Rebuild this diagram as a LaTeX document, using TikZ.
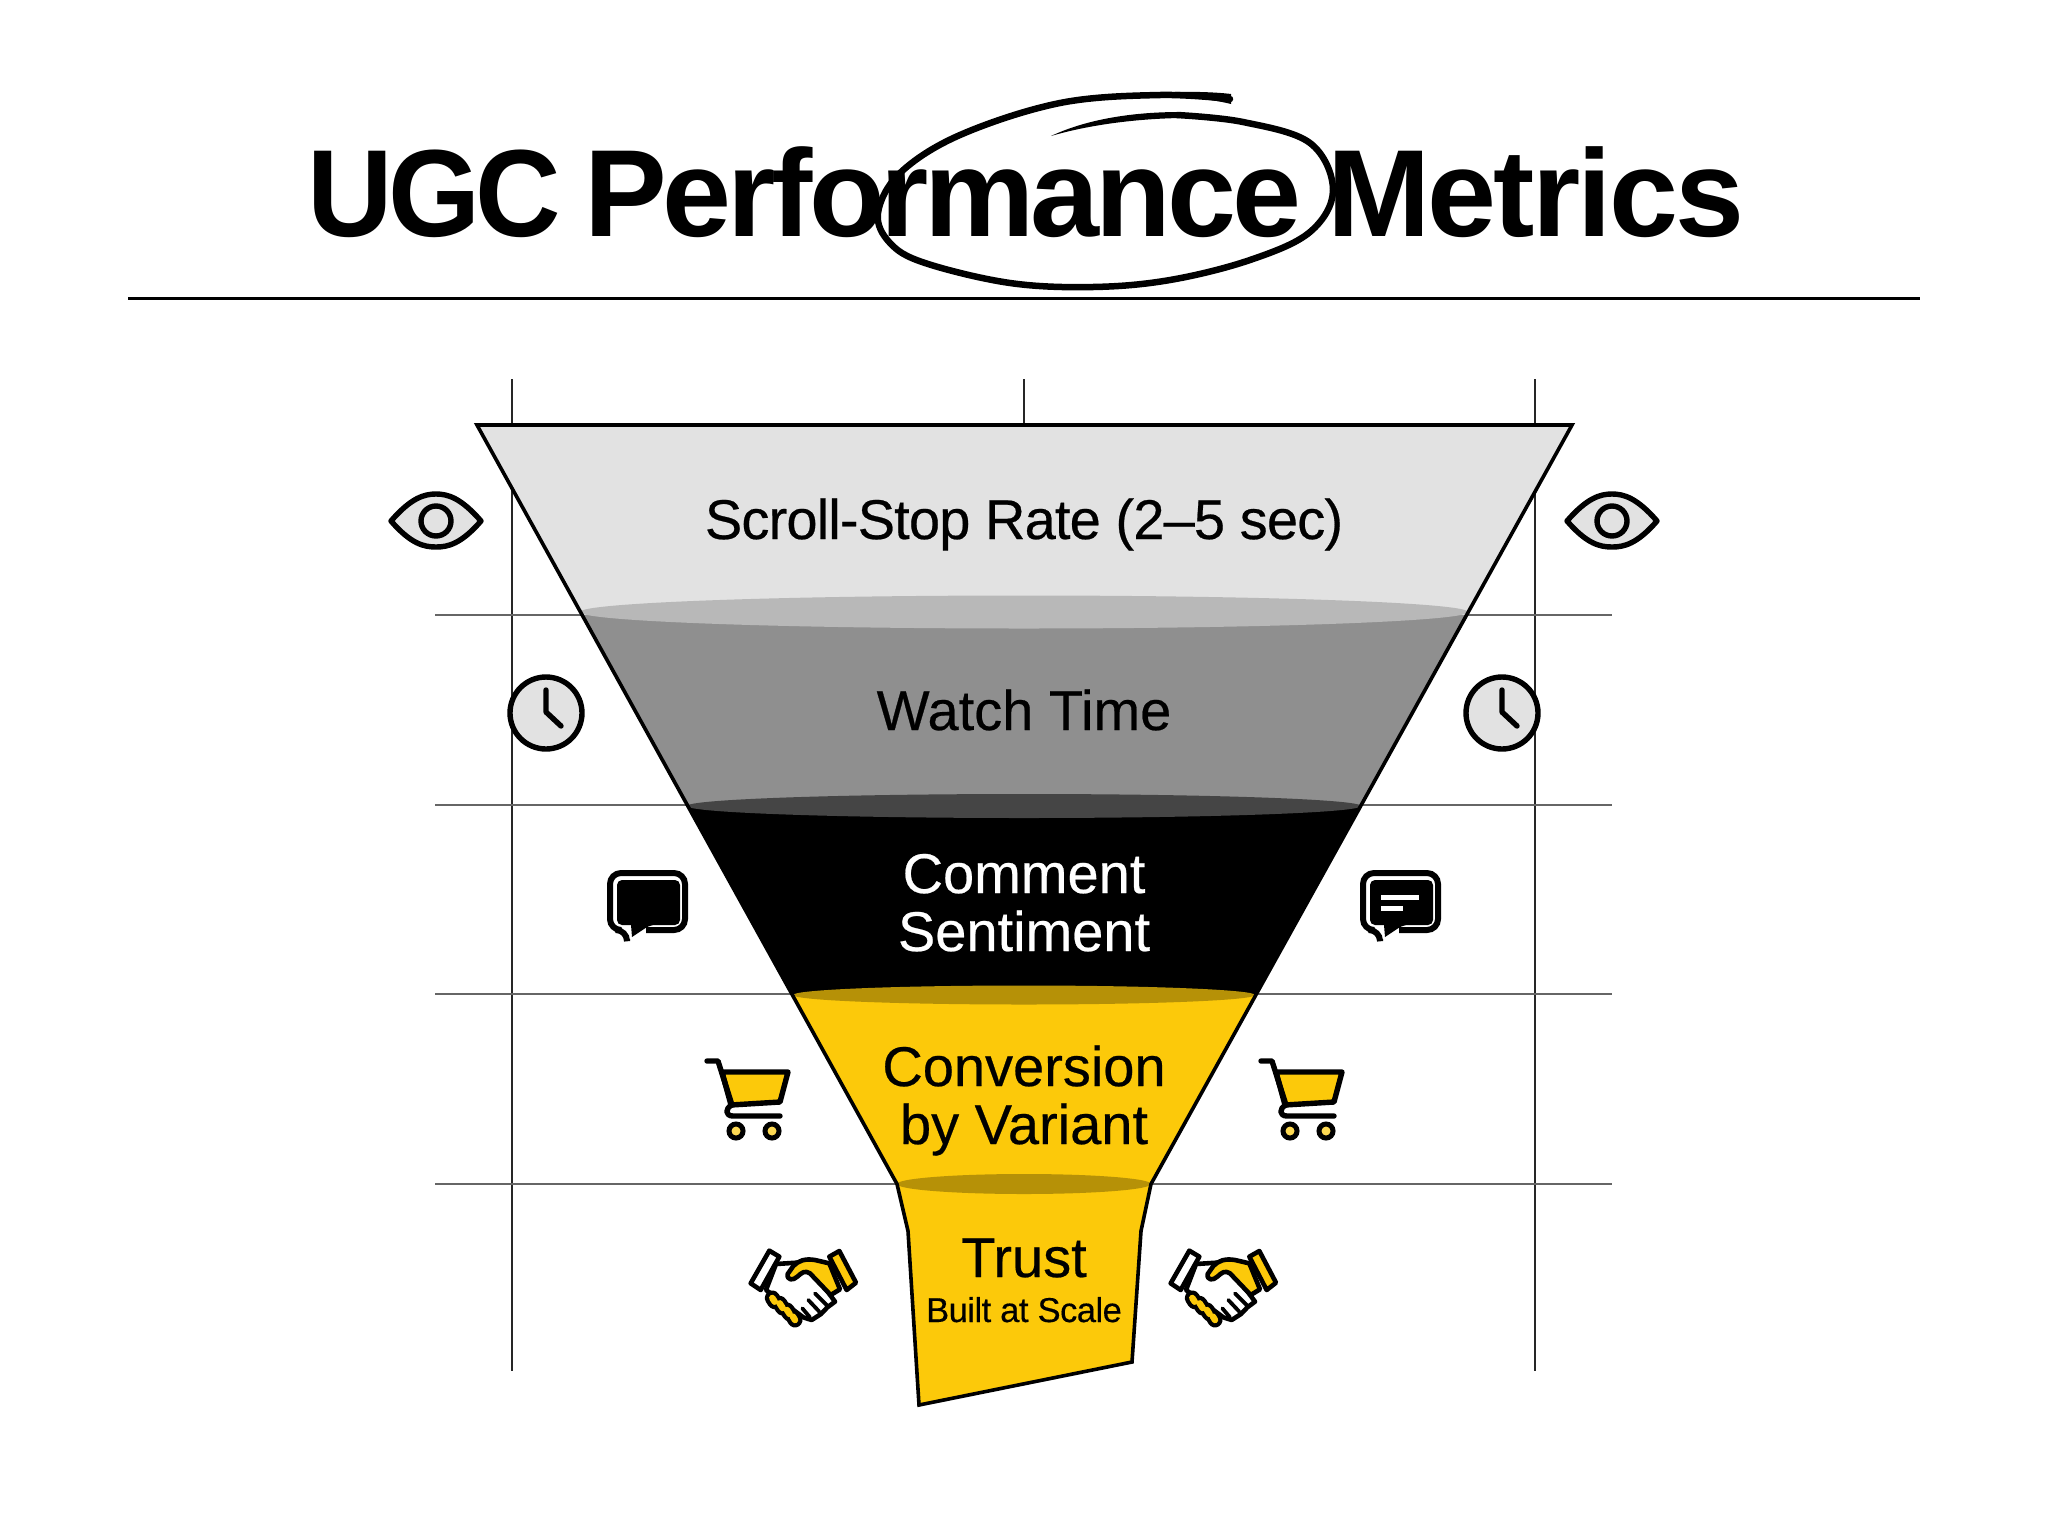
\documentclass[tikz,border=0pt]{standalone}
\usepackage{fontspec}
\setmainfont{Liberation Sans}
\newfontfamily\titleA[LetterSpace=-4]{Liberation Sans}
\newfontfamily\titleB[LetterSpace=-3.3]{Liberation Sans}
\newfontfamily\titleC[LetterSpace=-2.3]{Liberation Sans}
\newfontfamily\labelfont[LetterSpace=-1.5,FakeBold=0.4]{Liberation Sans}
\newfontfamily\labelwide[FakeBold=0.4]{Liberation Sans}
\definecolor{fgold}{HTML}{FCC90A}
\definecolor{flight}{HTML}{E2E2E2}
\definecolor{fmid}{HTML}{8F8F8F}
\tikzset{
  gridv/.style={draw=black!85,line width=1.5pt},
  gridh/.style={draw=black!60,line width=1.5pt},
  edge/.style={draw=black,line width=3.6pt,line join=miter},
  iconline/.style={draw=black,line width=5.4pt,line cap=round,line join=round},
  flabel/.style={inner sep=0pt,anchor=base,font=\labelwide\fontsize{56}{58}\selectfont},
  tword/.style={inner sep=0pt,anchor=base west},
}
\newcommand{\eyeicon}[2]{%
  \begin{scope}[shift={(#1,#2)}]
    \path[iconline,fill=flight] (-45,0) .. controls (-25,-23) and (-12,-27) .. (0,-27) .. controls (12,-27) and (25,-23) .. (45,0) .. controls (25,23) and (12,26) .. (0,26) .. controls (-12,26) and (-25,23) .. (-45,0) -- cycle;
    \path[iconline,fill=flight] (0,0) circle (15);
  \end{scope}}
\newcommand{\clockicon}[2]{%
  \begin{scope}[shift={(#1,#2)}]
    \path[iconline,fill=flight] (0,0) circle (36);
    \path[iconline] (0,-23) -- (0,-1) -- (15,13);
  \end{scope}}
\newcommand{\bubbleicon}[2]{%
  \begin{scope}[shift={(#1,#2)}]
    \path[draw=black,line width=6pt,rounded corners=11pt] (20,69) -- (20,60) -- (3,60) -- (3,3) -- (78,3) -- (78,60) -- (39,60);
    \fill[black,rounded corners=5pt] (10,10) -- (73,10) -- (73,55) -- (43,55) [sharp corners] -- (25,67) -- (24,55) [rounded corners=5pt] -- (10,55) -- cycle;
  \end{scope}}
\newcommand{\carticon}[1]{%
  \begin{scope}[xshift=#1pt]
    \path[iconline,fill=fgold] (722,1072) -- (788,1072) -- (780,1102) -- (731,1105) -- cycle;
    \path[iconline] (707,1061) -- (718,1061) -- (732,1105) .. controls (725,1108) and (725,1116) .. (733,1116) -- (780,1116);
    \path[draw=black,line width=5pt,fill=fgold!70!white] (736,1131) circle (7) (772,1131) circle (7);
  \end{scope}}
\newcommand{\shakeicon}[1]{%
  \begin{scope}[shift={(#1,1240)},x=0.3333pt,y=-0.3333pt]
    % white hand
    \path[draw=black,line width=4.6pt,line join=round,fill=white] (108,72) -- (170,68) -- (230,110) -- (285,185) -- (262,202) -- (243,222) -- (215,240) -- (190,232) -- (120,180) -- (78,150) -- cycle;
    % finger slits
    \path[draw=black,line width=3.8pt,line cap=round] (225,160) -- (262,197) (205,180) -- (238,215) (187,205) -- (210,232);
    % yellow fingers
    \path[draw=black,line width=15pt,line cap=round] (97,174) -- (104,185) (119,190) -- (128,204) (141,210) -- (149,222) (159,230) -- (165,240);
    \path[draw=fgold,line width=6.5pt,line cap=round] (97,174) -- (104,185) (119,190) -- (128,204) (141,210) -- (149,222) (159,230) -- (165,240);
    % yellow hand
    \path[draw=black,line width=4.6pt,line join=round,fill=fgold] (268,70) -- (225,60) .. controls (195,55) and (175,62) .. (160,78) -- (143,102) .. controls (140,122) and (160,122) .. (172,110) .. controls (185,98) and (195,90) .. (210,100) -- (272,165) -- (300,148) -- cycle;
    % cuffs
    \path[draw=black,line width=4.6pt,line join=round,fill=white] (88,32) -- (118,50) -- (62,150) -- (32,130) -- cycle;
    \path[draw=black,line width=4.6pt,line join=round,fill=fgold] (298,33) -- (268,50) -- (320,150) -- (348,128) -- cycle;
  \end{scope}}
\begin{document}
\begin{tikzpicture}[x=1pt,y=-1pt]
\useasboundingbox (0,0) rectangle (2048,1529);
\fill[white] (0,0) rectangle (2048,1529);

% title
\node[tword,font=\titleA\bfseries\fontsize{124}{124}\selectfont] (titlea) at (307,236) {\scalebox{0.955}[1]{UGC}};
\node[tword,font=\titleB\bfseries\fontsize{124}{124}\selectfont] (titleb) at (584,236) {Performance};
\node[tword,font=\titleC\bfseries\fontsize{124}{124}\selectfont] (titlec) at (1327,236) {Metrics};
\draw[line width=3pt,black] (128,298) -- (1920,298);

% grid
\draw[gridv] (512,379) -- (512,1371);
\draw[gridv] (1024,379) -- (1024,430);
\draw[gridv] (1535,379) -- (1535,1371);
\foreach \yy in {615,805,994,1184} \draw[gridh] (435,\yy) -- (1612,\yy);

% hand-drawn ring
\draw[black,line width=6.5pt,line cap=round] plot[smooth,tension=0.6] coordinates {(1230,99) (1160,95) (1060,103) (960,135) (900,173) (878,213) (890,243) (925,263) (1010,283) (1093,287) (1170,280) (1250,260) (1310,232) (1333,190) (1310,143) (1243,122) (1177,115)};
\fill[black] (1231,94) .. controls (1215,92) and (1190,91.5) .. (1175,92) -- (1175,98) .. controls (1195,97.5) and (1215,100) .. (1231,104) -- cycle;
\fill[black] (1180,112) .. controls (1130,112) and (1085,120) .. (1051,136) .. controls (1085,126) and (1130,119) .. (1180,118) -- cycle;

% funnel sections
\fill[flight] (476,425) -- (1572,425) -- (1468,615) -- (581,615) -- cycle;
\fill[fmid] (581,615) -- (1468,615) -- (1361,805) -- (688,805) -- cycle;
\fill[black] (688,805) -- (1361,805) -- (1255,994) -- (793,994) -- cycle;
\fill[fgold] (793,994) -- (1255,994) -- (1151,1184) -- (897,1184) -- cycle;
\fill[fgold] (897,1184) -- (1151,1184) -- (1141,1231) -- (1132,1362) -- (919,1405) -- (908,1231) -- cycle;
% rims
\fill[black!28] (1024,612) ellipse (444 and 16.5);
\fill[black!73] (1024,806) ellipse (337 and 12);
\fill[fgold!72!black] (1024,995) ellipse (231 and 9.5);
\fill[fgold!72!black] (1024,1184) ellipse (127 and 10);
% outline
\draw[edge] (897,1184) -- (477,425) -- (1572,425) -- (1151,1184) -- (1141,1231) -- (1132,1362) -- (919,1405) -- (908,1231) -- cycle;

% labels
\node[flabel,font=\labelfont\fontsize{56}{58}\selectfont] (l1) at (1024,539) {Scroll-Stop Rate (2–5 sec)};
\node[flabel] (l2) at (1024,730) {Watch Time};
\node[flabel,text=white] (l3a) at (1024,893) {Comment};
\node[flabel,text=white] (l3b) at (1024,951) {Sentiment};
\node[flabel] (l4a) at (1024,1086) {Conversion};
\node[flabel] (l4b) at (1024,1144) {by Variant};
\node[flabel] (l5a) at (1024,1277) {Trust};
\node[inner sep=0pt,anchor=base,font=\labelfont\fontsize{34.5}{36}\selectfont] (l5b) at (1024,1322) {Built at Scale};

% icons
\eyeicon{436}{521}
\eyeicon{1612}{521}
\clockicon{546}{713}
\clockicon{1502}{713}
\bubbleicon{607}{870}
\bubbleicon{1360}{870}
\draw[white,line width=5pt] (1381,897) -- (1419,897) (1381,908) -- (1403,908);
\carticon{0}
\carticon{554}
\shakeicon{740}
\shakeicon{1160}
\end{tikzpicture}
\end{document}
